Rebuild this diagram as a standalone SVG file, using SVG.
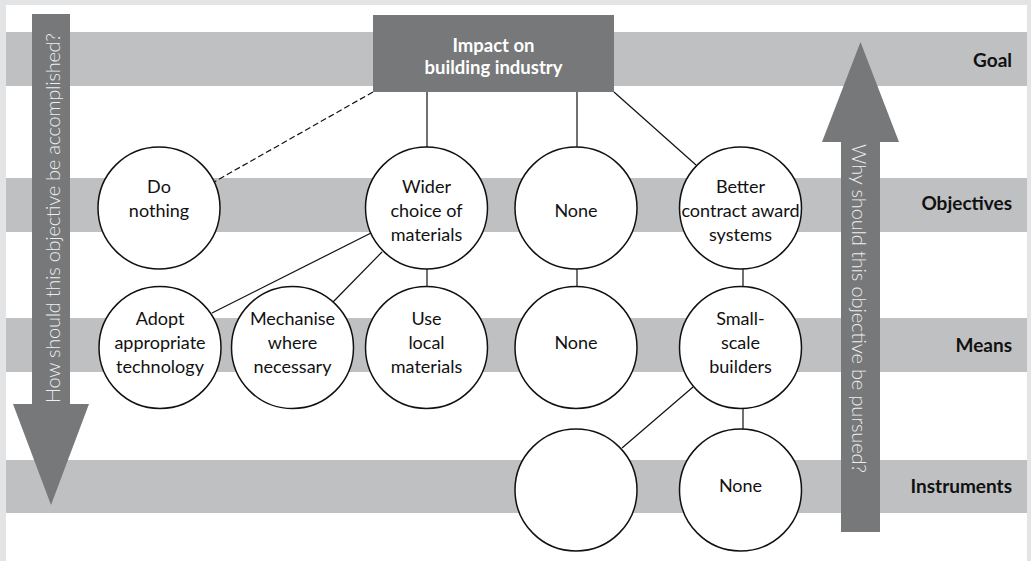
<svg xmlns="http://www.w3.org/2000/svg" width="1031" height="561" viewBox="0 0 1031 561">
  <style>
    .band { fill: #bfc0c2; }
    .node circle { fill: #ffffff; stroke: #111111; stroke-width: 1.5; }
    .node text { font-family: Lato, "Open Sans", sans-serif; font-size: 18px; fill: #111111; text-anchor: middle; }
    .goal text { font-family: Lato, "Open Sans", sans-serif; font-size: 18.5px; font-weight: bold; fill: #ffffff; text-anchor: middle; }
    .level { font-family: Lato, "Open Sans", sans-serif; font-size: 19px; font-weight: bold; fill: #111111; text-anchor: end; }
    .arrow { fill: #77787a; }
    .arrow-text { font-family: Lato, "Open Sans", sans-serif; font-size: 20px; font-weight: 300; fill: #eeeeee; text-anchor: middle; }
    #connectors line { stroke: #111111; stroke-width: 1.2; }
    #connectors .dashed { stroke-dasharray: 6 3; }
  </style>

  <!-- frame and panel -->
  <rect x="0" y="0" width="1031" height="561" fill="#e3e4e6"/>
  <rect x="6" y="5" width="1021" height="556" fill="#ffffff"/>

  <!-- level bands -->
  <g id="bands">
    <rect class="band" x="6" y="32" width="1021" height="54"/>
    <rect class="band" x="6" y="178" width="1021" height="54"/>
    <rect class="band" x="6" y="318" width="1021" height="54"/>
    <rect class="band" x="6" y="460" width="1021" height="53"/>
  </g>

  <!-- level labels -->
  <g id="levels">
    <text class="level" x="1012" y="67">Goal</text>
    <text class="level" x="1012" y="210">Objectives</text>
    <text class="level" x="1012" y="352">Means</text>
    <text class="level" x="1012" y="493">Instruments</text>
  </g>

  <!-- downward arrow: how -->
  <g id="arrow-how">
    <polygon class="arrow" points="32,14 70,14 70,404 89,404 51,505 13,404 32,404"/>
    <text class="arrow-text" transform="translate(60,218) rotate(-90)" textLength="370" lengthAdjust="spacing">How should this objective be accomplished?</text>
  </g>

  <!-- upward arrow: why -->
  <g id="arrow-why">
    <polygon class="arrow" points="841,532 880,532 880,142 899,142 860.5,42 822,142 841,142"/>
    <text class="arrow-text" transform="translate(852,308.5) rotate(90)" textLength="329" lengthAdjust="spacing">Why should this objective be pursued?</text>
  </g>

  <!-- connectors -->
  <g id="connectors">
    <line class="dashed" x1="373" y1="92" x2="214" y2="182"/>
    <line x1="427" y1="92" x2="427" y2="147"/>
    <line x1="577" y1="92" x2="577" y2="147"/>
    <line x1="614" y1="92" x2="696" y2="165"/>
    <line x1="371" y1="233" x2="212" y2="313"/>
    <line x1="382" y1="252" x2="333" y2="302"/>
    <line x1="427" y1="269" x2="427" y2="287"/>
    <line x1="577" y1="269" x2="577" y2="287"/>
    <line x1="743" y1="269" x2="743" y2="287"/>
    <line x1="693" y1="387" x2="622" y2="448"/>
    <line x1="743" y1="408" x2="743" y2="429"/>
  </g>

  <!-- goal -->
  <g id="goal" class="goal">
    <rect x="373" y="15" width="241" height="77" fill="#77787a"/>
    <text x="493.5" y="52">Impact on</text>
    <text x="493.5" y="74">building industry</text>
  </g>

  <!-- objectives -->
  <g id="do-nothing" class="node">
    <circle cx="159" cy="208" r="61"/>
    <text x="159" y="193">Do</text>
    <text x="159" y="217">nothing</text>
  </g>
  <g id="wider-choice" class="node">
    <circle cx="426.5" cy="208" r="61"/>
    <text x="426.5" y="193">Wider</text>
    <text x="426.5" y="217">choice of</text>
    <text x="426.5" y="241">materials</text>
  </g>
  <g id="none-objective" class="node">
    <circle cx="576" cy="208" r="61"/>
    <text x="576" y="217">None</text>
  </g>
  <g id="better-contract" class="node">
    <circle cx="740.5" cy="208" r="61"/>
    <text x="740.5" y="193">Better</text>
    <text x="740.5" y="217">contract award</text>
    <text x="740.5" y="241">systems</text>
  </g>

  <!-- means -->
  <g id="adopt-technology" class="node">
    <circle cx="160" cy="347.5" r="61"/>
    <text x="160" y="325">Adopt</text>
    <text x="160" y="349">appropriate</text>
    <text x="160" y="373">technology</text>
  </g>
  <g id="mechanise" class="node">
    <circle cx="292.5" cy="347.5" r="61"/>
    <text x="292.5" y="325">Mechanise</text>
    <text x="292.5" y="349">where</text>
    <text x="292.5" y="373">necessary</text>
  </g>
  <g id="local-materials" class="node">
    <circle cx="426.5" cy="347.5" r="61"/>
    <text x="426.5" y="325">Use</text>
    <text x="426.5" y="349">local</text>
    <text x="426.5" y="373">materials</text>
  </g>
  <g id="none-means" class="node">
    <circle cx="576" cy="347.5" r="61"/>
    <text x="576" y="349">None</text>
  </g>
  <g id="small-builders" class="node">
    <circle cx="740.5" cy="347.5" r="61"/>
    <text x="740.5" y="325">Small-</text>
    <text x="740.5" y="349">scale</text>
    <text x="740.5" y="373">builders</text>
  </g>

  <!-- instruments -->
  <g id="instrument-blank" class="node">
    <circle cx="576" cy="490" r="61"/>
  </g>
  <g id="none-instrument" class="node">
    <circle cx="740.5" cy="490" r="61"/>
    <text x="740.5" y="492">None</text>
  </g>
</svg>
